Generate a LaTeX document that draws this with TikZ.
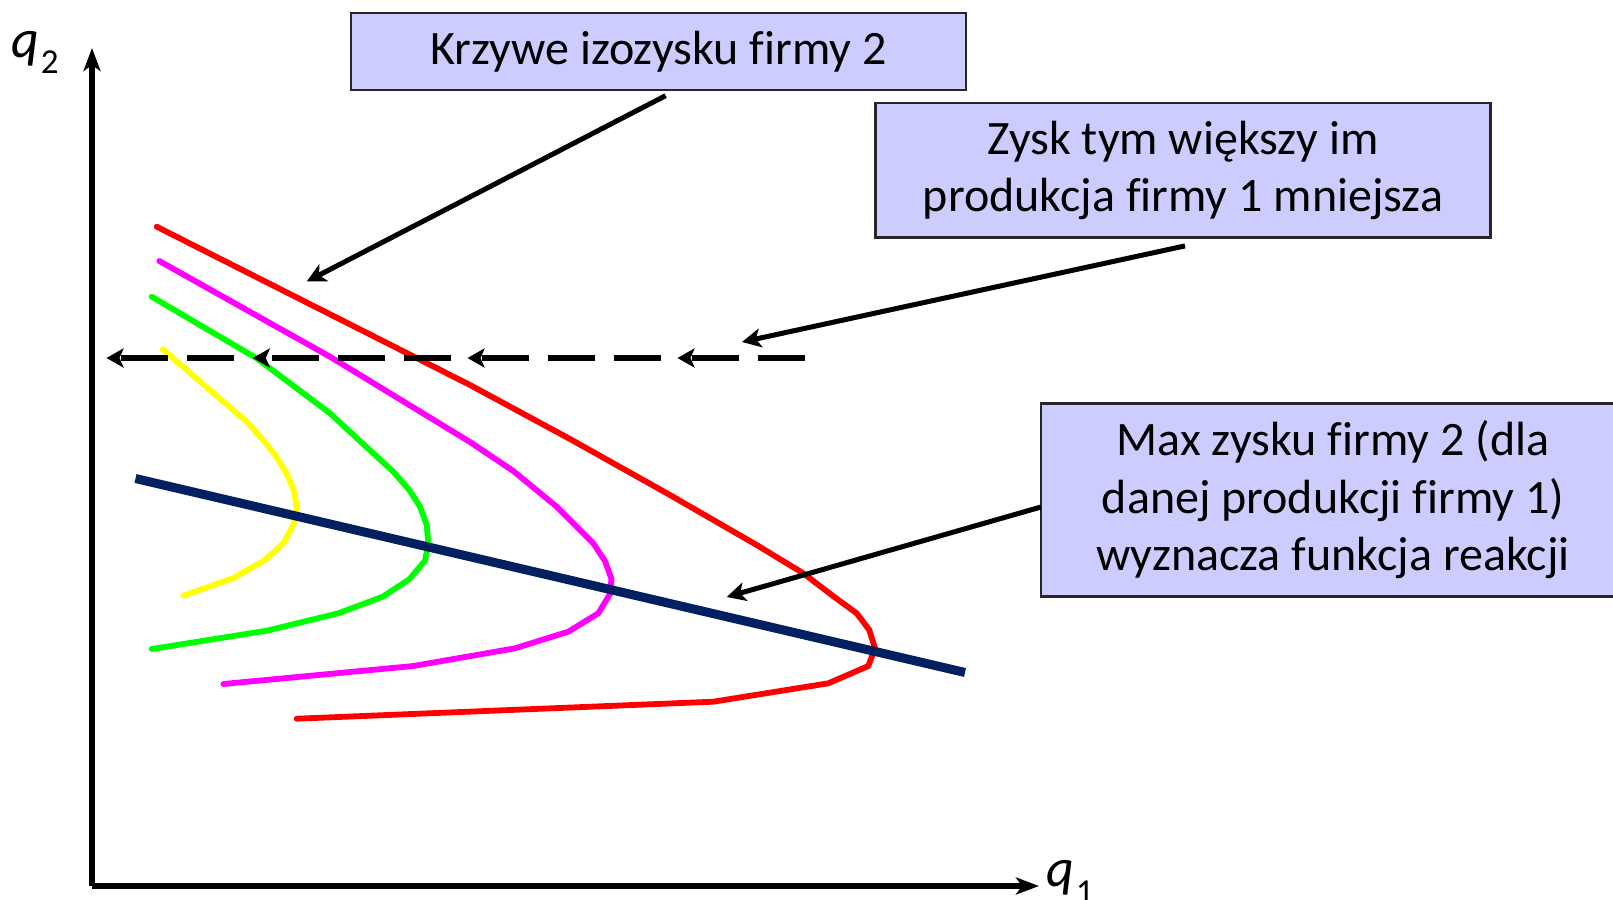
\documentclass[tikz,border=0pt]{standalone}
\usepackage{fontspec}
\setmainfont{Carlito}[Ligatures=NoCommon]
\usetikzlibrary{arrows.meta}
\definecolor{boxfill}{HTML}{CCCCFF}
\definecolor{navyline}{HTML}{002060}
\definecolor{isored}{HTML}{FF0000}
\definecolor{isomag}{HTML}{FF00FF}
\definecolor{isogreen}{HTML}{00FF00}
\definecolor{isoyellow}{HTML}{FFFF00}
\begin{document}
\begin{tikzpicture}[x=1pt,y=-1pt,
  lbl/.style={draw=black!85, line width=2.5pt, fill=boxfill, align=center, inner sep=0pt,
    font=\fontsize{48}{57.5}\selectfont},
  pointer/.style={draw=black, line width=5pt, -{Stealth[length=19pt,width=19pt,inset=5pt]}},
  dasharrow/.style={draw=black, line width=6.5pt, dash pattern=on 47pt off 19pt,
    -{Stealth[length=17pt,width=19pt,inset=4pt]}},
  axisline/.style={draw=black, line width=5.5pt, -{Stealth[length=23pt,width=17pt,inset=6pt]}},
  iso/.style={line width=5.8pt, line cap=round, line join=round},
  axlabel/.style={inner sep=0pt, anchor=base west, font=\fontsize{54}{54}\selectfont\itshape},
]
\useasboundingbox (0,0) rectangle (1613,899);
\clip (0,0) rectangle (1613,899);

% axes
\coordinate (O) at (92,886);
\coordinate (ytip) at (92,48);
\coordinate (xtip) at (1039,886);
\draw[axisline] (O) -- (ytip);
\draw[axisline] (O) -- (xtip);
\node[axlabel] (q2) at (11,57) {q\kern2pt\raisebox{-17pt}{\fontsize{35}{35}\selectfont\upshape 2}};
\node[axlabel] (q1) at (1046,886) {q\kern2pt\raisebox{-17pt}{\fontsize{35}{35}\selectfont\upshape 1}};

% isoprofit curves
\draw[iso, isored] (156.7,226.7) -- (470,385) -- (570,439) -- (670,495) -- (756.7,545)
  -- (803.3,573.3) -- (833.3,596.2) -- (856.7,613.3) -- (869.3,630) -- (875,648.3)
  -- (868.3,666) -- (828.3,683.3) -- (713.3,701.7) -- (296.7,718.7);
\draw[iso, isomag] (159.3,261) -- (330,356.7) -- (470,442) -- (513.3,471) -- (556.7,506.7)
  -- (593.3,543.3) -- (605,561) -- (611.5,579) -- (610,594)
  -- (598.3,613.3) -- (568.3,631.7) -- (515,648.3) -- (413.3,666) -- (223.3,684);
\draw[iso, isogreen] (151.7,296.7) -- (256.7,358.3) -- (330,413.3) -- (356.7,438)
  -- (393.3,471.7) -- (409.3,490) -- (420,506.7) -- (426.7,525) -- (428.3,543.3)
  -- (425,560.7) -- (409.3,579.3) -- (382.7,596.7) -- (338.3,613.3) -- (266.7,630.7)
  -- (151.7,649);
\draw[iso, isoyellow] (162.7,349.3) -- (246.7,421.7) -- (263.3,440) -- (275,455)
  -- (286.7,473.3) -- (294.3,491.7) -- (296.7,508.3) -- (294,523.3) -- (284,542.7)
  -- (264,560.7) -- (232.7,578.3) -- (183.3,595.7);

% reaction function
\coordinate (r1) at (135.5,478.5);
\coordinate (r2) at (965,672.5);
\draw[navyline, line width=9pt] (r1) -- (r2);

% dashed arrows
\coordinate (d1s) at (805,358);   \coordinate (d1e) at (677.5,358);
\coordinate (d2s) at (661,358);   \coordinate (d2e) at (467.5,358);
\coordinate (d3s) at (451,358);   \coordinate (d3e) at (252.8,358);
\coordinate (d4s) at (234,358);   \coordinate (d4e) at (106.5,358);
\draw[dasharrow] (d1s) -- (d1e);
\draw[dasharrow] (d2s) -- (d2e);
\draw[dasharrow] (d3s) -- (d3e);
\draw[dasharrow] (d4s) -- (d4e);

% labels
\node[lbl, minimum width=615pt, minimum height=77pt] (b1) at (658.4,51.5)
  {\raisebox{-2pt}{Krzywe izozysku firmy 2}};
\node[lbl, minimum width=615pt, minimum height=134.7pt] (b2) at (1183,170.3)
  {\raisebox{-4pt}{\parbox{600pt}{\centering Zysk tym większy im\\produkcja firmy 1 mniejsza}}};
\node[lbl, minimum width=584pt, minimum height=193pt] (b3) at (1333,500)
  {Max zysku firmy 2 (dla\\danej produkcji firmy 1)\\wyznacza funkcja reakcji};

% pointers
\coordinate (p1s) at (665.6,95.7);  \coordinate (p1e) at (306.7,281.5);
\coordinate (p2s) at (1185,245.9);  \coordinate (p2e) at (742,342);
\coordinate (p3s) at (1041,507);    \coordinate (p3e) at (726.7,597);
\draw[pointer] (p1s) -- (p1e);
\draw[pointer] (p2s) -- (p2e);
\draw[pointer] (p3s) -- (p3e);
\end{tikzpicture}
\end{document}
